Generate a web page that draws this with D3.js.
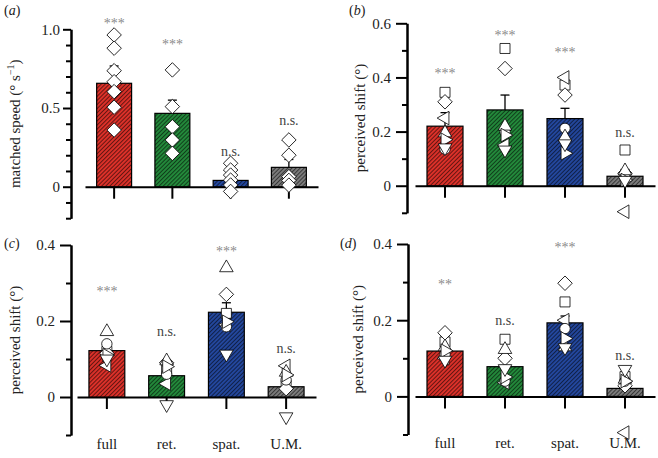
<!DOCTYPE html>
<html><head><meta charset="utf-8">
<script src="https://cdn.jsdelivr.net/npm/d3@7"></script>
<style>
body{margin:0;background:#fff}
svg{display:block}
text{font-family:"Liberation Serif","Times New Roman",serif}
</style>
</head><body>
<svg id="chart" width="658" height="458"></svg>
<script>
// ---------- data ----------
const categories = ["full", "ret.", "spat.", "U.M."];
const shapeOrder = ["square", "diamond", "triLeft", "circle", "triUp", "triRight", "triDown"];

// panel (a): matched speed
const aMeans = [0.657, 0.466, 0.04, 0.123];
const aSem = [0.11, 0.084, 0.02, 0.05];
const aPoints = [
  [0.964, 0.88, 0.737, 0.667, 0.604, 0.505, 0.36],
  [0.742, 0.509, 0.381, 0.297, 0.212],
  [0.149, 0.106, 0.074, 0.042, 0.011, -0.03],
  [0.297, 0.2, 0.064, 0.04, 0.01]
];
const aSig = ["***", "***", "n.s.", "n.s."];
const aSigY = [1.053, 0.918, 0.215, 0.413];
const aTickValues = [0, 0.5, 1.0];
const aTickLabels = ["0", "0.5", "1.0"];

// panel (b)
const bMeans = [0.22, 0.28, 0.248, 0.035];
const bSem = [0.05, 0.055, 0.038, 0.025];
const bPoints = [
  [0.345, 0.31, 0.25, 0.135, 0.195, 0.17, 0.14],
  [0.507, 0.433, 0.15, 0.2, 0.22, 0.187, 0.132],
  [0.372, 0.335, 0.4, 0.212, 0.18, 0.12, 0.155],
  [0.132, 0.046, -0.096, 0.03, 0.055, 0.021, 0.02]
];
const bSig = ["***", "***", "***", "n.s."];
const bSigY = [0.425, 0.566, 0.5, 0.193];
const bTickValues = [0, 0.2, 0.4, 0.6];
const bTickLabels = ["0", "0.2", "0.4", "0.6"];

// panel (c)
const cMeans = [0.122, 0.056, 0.223, 0.027];
const cSem = [0.02, 0.015, 0.025, 0.015];
const cPoints = [
  [0.12, 0.115, 0.083, 0.14, 0.172, 0.11, 0.10],
  [0.07, 0.09, 0.035, 0.06, 0.095, 0.08, -0.02],
  [0.22, 0.27, 0.19, 0.185, 0.34, 0.198, 0.113],
  [0.03, 0.022, 0.082, 0.045, 0.065, 0.058, -0.052]
];
const cSig = ["***", "n.s.", "***", "n.s."];
const cSigY = [0.283, 0.17, 0.39, 0.125];
const cTickValues = [0, 0.2, 0.4];
const cTickLabels = ["0", "0.2", "0.4"];

// panel (d)
const dMeans = [0.119, 0.078, 0.193, 0.021];
const dSem = [0.015, 0.015, 0.018, 0.012];
const dPoints = [
  [0.143, 0.167, 0.1, 0.11, 0.13, 0.12, 0.095],
  [0.15, 0.1, 0.036, 0.04, 0.123, 0.051, 0.073],
  [0.248, 0.297, 0.2, 0.178, 0.13, 0.152, 0.128],
  [0.052, 0.028, -0.095, 0.04, 0.045, 0.04, 0.071]
];
const dSig = ["**", "n.s.", "***", "n.s."];
const dSigY = [0.30, 0.196, 0.397, 0.104];
const dTickValues = [0, 0.2, 0.4];
const dTickLabels = ["0", "0.2", "0.4"];

// ---------- drawing ----------
const svg = d3.select("#chart");
const defs = svg.append("defs");
const barColors = ["#dc3129", "#23893b", "#23479d", "#7b7b7b"];
const hs = 2.9;
barColors.forEach((c, i) => {
  const p = defs.append("pattern").attr("id", "hatch" + i)
    .attr("patternUnits", "userSpaceOnUse")
    .attr("width", hs).attr("height", hs)
    .attr("patternTransform", "rotate(45)");
  p.append("rect").attr("width", hs).attr("height", hs).attr("fill", c);
  p.append("line").attr("x1", 0.5).attr("y1", 0).attr("x2", 0.5).attr("y2", hs)
    .attr("stroke", "#000").attr("stroke-opacity", 0.6).attr("stroke-width", 0.9);
});

function symbolFor(shape) {
  if (shape === "circle") return { d: d3.symbol(d3.symbolCircle, 85)(), r: 0 };
  if (shape === "square") return { d: d3.symbol(d3.symbolSquare, 100)(), r: 0 };
  if (shape === "diamond") return { d: d3.symbol(d3.symbolSquare, 105)(), r: 45 };
  const rot = { triUp: 0, triRight: 90, triDown: 180, triLeft: 270 }[shape];
  return { d: d3.symbol(d3.symbolTriangle, 80)(), r: rot };
}

const panels = [
  { tag: "a", means: aMeans, sem: aSem, points: aPoints, shapes: null, sig: aSig, sigY: aSigY,
    tv: aTickValues, tl: aTickLabels, domain: [-0.2, 1.0], yRange: [218.2, 29.3],
    xRange: [85, 318], axisX: 71, major: 8, pad: 3, titleX: 15, showX: false, tagX: 4, tagY: 15,
    title: "matched" },
  { tag: "b", means: bMeans, sem: bSem, points: bPoints, shapes: shapeOrder, sig: bSig, sigY: bSigY,
    tv: bTickValues, tl: bTickLabels, domain: [-0.1, 0.6], yRange: [212.8, 23.3],
    xRange: [415, 655], axisX: 407, major: 11, pad: 5, titleX: 360, showX: false, tagX: 349, tagY: 15,
    title: "shift" },
  { tag: "c", means: cMeans, sem: cSem, points: cPoints, shapes: shapeOrder, sig: cSig, sigY: cSigY,
    tv: cTickValues, tl: cTickLabels, domain: [-0.1, 0.4], yRange: [435, 245],
    xRange: [77, 316], axisX: 71, major: 11, pad: 5, titleX: 15, showX: true, tagX: 4, tagY: 248,
    title: "shift" },
  { tag: "d", means: dMeans, sem: dSem, points: dPoints, shapes: shapeOrder, sig: dSig, sigY: dSigY,
    tv: dTickValues, tl: dTickLabels, domain: [-0.1, 0.4], yRange: [434.5, 244],
    xRange: [415, 655], axisX: 408, major: 11, pad: 5, titleX: 358, showX: true, tagX: 340, tagY: 248,
    title: "shift" }
];

panels.forEach(P => {
  const g = svg.append("g");
  const y = d3.scaleLinear().domain(P.domain).range(P.yRange);
  const x = d3.scaleBand().domain(categories).range(P.xRange).paddingInner(0.4).paddingOuter(0.2);

  // minor ticks
  const minor = d3.range(Math.round(P.domain[0] * 10), Math.round(P.domain[1] * 10) + 1).map(v => v / 10)
    .filter(v => !P.tv.some(t => Math.abs(t - v) < 1e-9));
  const ax1 = g.append("g").attr("transform", `translate(${P.axisX},0)`)
    .call(d3.axisLeft(y).tickValues(minor).tickSize(5).tickSizeOuter(0).tickFormat(""));
  const ax2 = g.append("g").attr("transform", `translate(${P.axisX},0)`)
    .call(d3.axisLeft(y).tickValues(P.tv).tickSize(P.major).tickSizeOuter(0).tickPadding(P.pad)
      .tickFormat((d, i) => P.tl[i]));
  [ax1, ax2].forEach(a => {
    a.attr("font-family", null);
    a.selectAll("path,line").attr("stroke", "#000").attr("stroke-width", 2);
    a.selectAll("text").attr("font-size", 15).attr("fill", "#222")
      .style("font-family", '"Liberation Serif", serif');
  });

  // x axis
  const xa = g.append("g").attr("transform", `translate(0,${y(0)})`)
    .call(d3.axisBottom(x).tickSize(12).tickSizeOuter(0).tickPadding(29)
      .tickFormat(P.showX ? (d => d) : ""));
  xa.attr("font-family", null);
  xa.selectAll("path,line").attr("stroke", "#000").attr("stroke-width", 2);
  xa.selectAll("text").attr("font-size", 15).attr("fill", "#222")
    .style("font-family", '"Liberation Serif", serif');

  // y title
  const cy = (P.yRange[0] + P.yRange[1]) / 2;
  const t = g.append("text").attr("transform", `translate(${P.titleX},${cy}) rotate(-90)`)
    .attr("text-anchor", "middle").attr("dominant-baseline", "central")
    .attr("font-size", 15).attr("fill", "#222");
  if (P.title === "matched") {
    t.append("tspan").text("matched speed (° s");
    t.append("tspan").attr("dy", -5).attr("font-size", 10).text("−1");
    t.append("tspan").attr("dy", 5).text(")");
  } else {
    t.text("perceived shift (°)");
  }

  // panel tag
  const tg = g.append("text").attr("x", P.tagX).attr("y", P.tagY).attr("font-size", 14).attr("fill", "#222");
  tg.append("tspan").text("(");
  tg.append("tspan").attr("font-style", "italic").text(P.tag);
  tg.append("tspan").text(")");

  // bars
  g.selectAll("rect.bar").data(P.means).join("rect").attr("class", "bar")
    .attr("x", (d, i) => x(categories[i]))
    .attr("y", d => y(Math.max(0, d)))
    .attr("width", x.bandwidth())
    .attr("height", d => Math.abs(y(d) - y(0)))
    .attr("fill", (d, i) => `url(#hatch${i})`)
    .attr("stroke", "#000").attr("stroke-width", 1.2);

  // error bars
  P.means.forEach((m, i) => {
    const cx = x(categories[i]) + x.bandwidth() / 2;
    g.append("line").attr("x1", cx).attr("x2", cx).attr("y1", y(m)).attr("y2", y(m + P.sem[i]))
      .attr("stroke", "#000").attr("stroke-width", 1.3);
    g.append("line").attr("x1", cx - 4.5).attr("x2", cx + 4.5).attr("y1", y(m + P.sem[i])).attr("y2", y(m + P.sem[i]))
      .attr("stroke", "#000").attr("stroke-width", 1.3);
  });

  // individual points
  P.points.forEach((arr, i) => {
    const cx = x(categories[i]) + x.bandwidth() / 2;
    arr.forEach((v, j) => {
      const s = symbolFor(P.shapes ? P.shapes[j] : "diamond");
      g.append("path").attr("d", s.d)
        .attr("transform", `translate(${cx},${y(v)}) rotate(${s.r})`)
        .attr("fill", "#fff").attr("stroke", "#000").attr("stroke-width", 0.8);
    });
  });

  // significance labels
  P.sig.forEach((s, i) => {
    const cx = x(categories[i]) + x.bandwidth() / 2;
    const stars = s.indexOf("*") >= 0;
    g.append("text").attr("x", cx).attr("y", y(P.sigY[i]) + (stars ? 7 : 3.5))
      .attr("text-anchor", "middle").attr("font-size", 14)
      .attr("fill", stars ? "#8a8a8a" : "#444").text(s);
  });
});
</script>
</body></html>
